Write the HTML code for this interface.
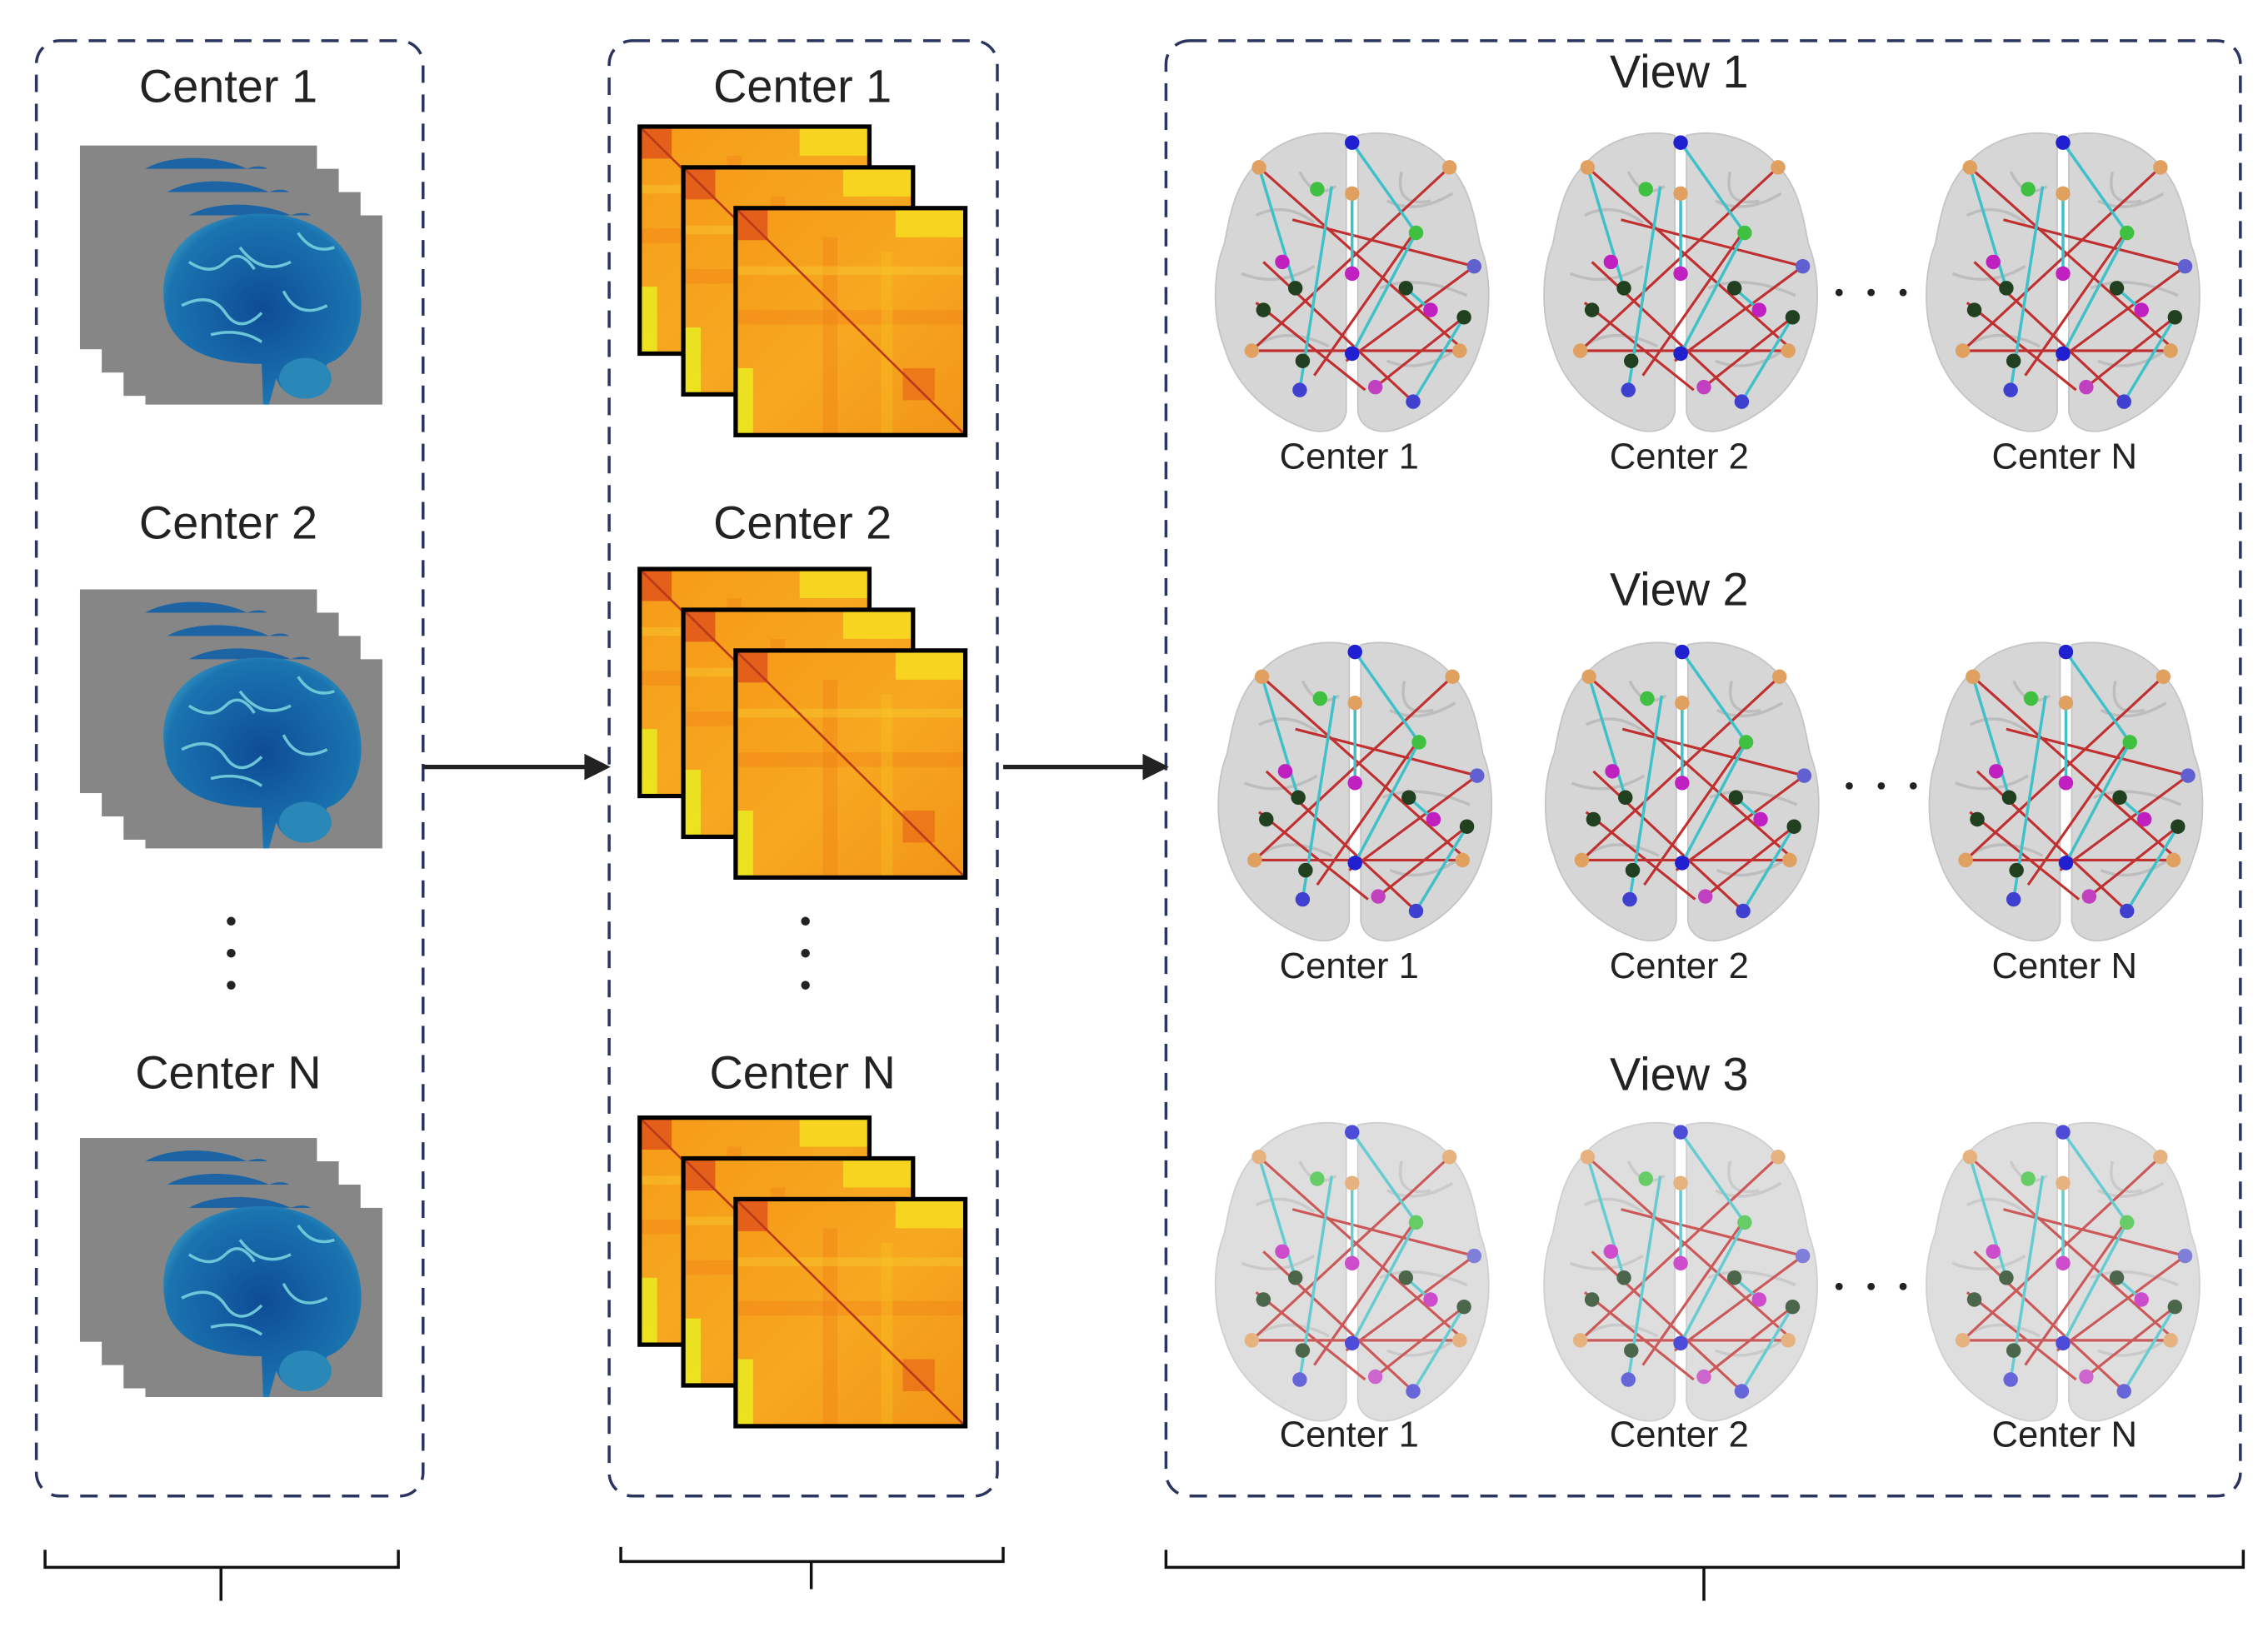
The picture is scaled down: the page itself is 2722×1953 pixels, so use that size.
<!DOCTYPE html>
<html><head><meta charset="utf-8"><style>
html,body{margin:0;padding:0;background:#fff;}
svg{display:block;}
text{font-family:"Liberation Sans",sans-serif;fill:#222;}
</style></head><body>
<svg width="2722" height="1953" viewBox="0 0 1560 1118" preserveAspectRatio="none" xmlns="http://www.w3.org/2000/svg">
<defs>
  <linearGradient id="hm" x1="0" y1="0" x2="1" y2="1">
    <stop offset="0" stop-color="#f59a18"/><stop offset="0.5" stop-color="#f7a820"/><stop offset="1" stop-color="#f29418"/>
  </linearGradient>
  <radialGradient id="bb" cx="0.5" cy="0.5" r="0.6">
    <stop offset="0" stop-color="#0e4c96"/><stop offset="0.8" stop-color="#1a74b0"/><stop offset="1" stop-color="#4aa7c8"/>
  </radialGradient>
  <g id="mat">
    <rect x="0" y="0" width="158" height="156" fill="url(#hm)"/>
    <rect x="0" y="0" width="22" height="22" fill="#e0501a" opacity="0.8"/>
    <rect x="110" y="0" width="48" height="20" fill="#f5e020" opacity="0.8"/>
    <rect x="0" y="110" width="12" height="46" fill="#e8f020" opacity="0.8"/>
    <rect x="60" y="20" width="10" height="136" fill="#f07a18" opacity="0.35"/>
    <rect x="0" y="70" width="158" height="10" fill="#f07a18" opacity="0.35"/>
    <rect x="100" y="30" width="8" height="126" fill="#f8c020" opacity="0.4"/>
    <rect x="0" y="40" width="158" height="6" fill="#f8d030" opacity="0.4"/>
    <rect x="115" y="110" width="22" height="22" fill="#e8601a" opacity="0.6"/>
    <line x1="0" y1="0" x2="158" y2="156" stroke="#b83a1a" stroke-width="1.5"/>
    <rect x="0" y="0" width="158" height="156" fill="none" stroke="#000" stroke-width="3"/>
  </g>
  <g id="stk">
    <use href="#mat" x="0" y="0"/>
    <use href="#mat" x="30" y="28"/>
    <use href="#mat" x="66" y="56"/>
  </g>
  <g id="slice">
    <rect x="0" y="0" width="163" height="140" fill="#868686"/>
    <path d="M35 26 C45 6 90 4 115 16 C130 10 140 22 120 30 L35 30 Z" fill="#1260a8" opacity="0.9"/>
  </g>
  <g id="brainstack">
    <use href="#slice" x="0" y="0"/>
    <use href="#slice" x="15" y="16"/>
    <use href="#slice" x="30" y="32"/>
    <rect x="45" y="48" width="163" height="130" fill="#868686"/>
    <path d="M60 120 C50 80 70 55 110 48 C150 42 185 60 192 95 C198 125 185 145 170 150 L165 168 C160 178 140 175 135 160 L130 178 L126 178 L125 150 C100 150 70 145 60 120 Z" fill="url(#bb)"/>
    <path d="M75 80 q15 10 25 0 q10 -10 20 5 M70 110 q20 -10 30 5 q10 15 25 0 M110 70 q15 20 35 10 M140 100 q10 20 30 10 M90 130 q20 -5 35 5 M150 60 q10 15 25 10" stroke="#6cc6d8" stroke-width="2" fill="none"/>
    <ellipse cx="155" cy="160" rx="18" ry="14" fill="#2a88b8"/>
  </g>
  <g id="brain">
    <path d="M92 5 C70 0 45 8 30 25 C15 40 12 60 8 80 C0 100 0 130 8 150 C15 175 35 195 60 205 C75 212 90 208 92 195 Z" fill="#d6d6d6" stroke="#c4c4c4"/>
    <path d="M100 5 C122 0 147 8 162 25 C177 40 180 60 184 80 C192 100 192 130 184 150 C177 175 157 195 132 205 C117 212 102 208 100 195 Z" fill="#d6d6d6" stroke="#c4c4c4"/>
    <path d="M30 60 q20 -10 40 5 M20 100 q25 10 50 -5 M30 150 q20 -15 50 0 M120 50 q20 10 45 -5 M115 110 q25 -10 60 5 M120 160 q25 10 50 -10 M60 30 q10 20 25 10 M130 30 q-5 25 20 20" stroke="#bdbdbd" stroke-width="2" fill="none"/>
    <g stroke="#c03030" stroke-width="1.8">
      <line x1="32" y1="27" x2="170" y2="150"/><line x1="163" y1="27" x2="27" y2="153"/>
      <line x1="27" y1="153" x2="170" y2="153"/><line x1="35" y1="92" x2="138" y2="188"/>
      <line x1="55" y1="63" x2="180" y2="95"/><line x1="30" y1="120" x2="105" y2="180"/>
      <line x1="92" y1="160" x2="180" y2="95"/><line x1="112" y1="178" x2="173" y2="130"/>
      <line x1="70" y1="170" x2="140" y2="70"/>
    </g>
    <g stroke="#40c0c8" stroke-width="2">
      <line x1="32" y1="27" x2="57" y2="110"/><line x1="96" y1="10" x2="140" y2="72"/>
      <line x1="96" y1="45" x2="96" y2="100"/><line x1="140" y1="72" x2="96" y2="155"/>
      <line x1="82" y1="40" x2="60" y2="180"/><line x1="138" y1="188" x2="173" y2="130"/>
      <line x1="133" y1="110" x2="150" y2="125"/>
    </g>
    <g>
      <circle cx="32" cy="27" r="5" fill="#e0a060"/><circle cx="163" cy="27" r="5" fill="#e0a060"/>
      <circle cx="96" cy="45" r="5" fill="#e0a060"/><circle cx="27" cy="153" r="5" fill="#e0a060"/>
      <circle cx="170" cy="153" r="5" fill="#e0a060"/><circle cx="96" cy="10" r="5" fill="#2020d0"/>
      <circle cx="96" cy="155" r="5" fill="#2020d0"/><circle cx="60" cy="180" r="5" fill="#4040d0"/>
      <circle cx="138" cy="188" r="5" fill="#4040d0"/><circle cx="180" cy="95" r="5" fill="#6060d0"/>
      <circle cx="72" cy="42" r="5" fill="#40c040"/><circle cx="140" cy="72" r="5" fill="#40c040"/>
      <circle cx="57" cy="110" r="5" fill="#204020"/><circle cx="133" cy="110" r="5" fill="#204020"/>
      <circle cx="35" cy="125" r="5" fill="#204020"/><circle cx="62" cy="160" r="5" fill="#204020"/>
      <circle cx="173" cy="130" r="5" fill="#204020"/><circle cx="96" cy="100" r="5" fill="#c020c0"/>
      <circle cx="48" cy="92" r="5" fill="#c020c0"/><circle cx="150" cy="125" r="5" fill="#c020c0"/>
      <circle cx="112" cy="178" r="5" fill="#c040c0"/>
    </g>
  </g>
</defs>

<!-- dashed boxes -->
<g fill="none" stroke="#2a3560" stroke-width="2" stroke-dasharray="12,8">
  <rect x="25" y="28" width="266" height="1000" rx="16"/>
  <rect x="419" y="28" width="267" height="1000" rx="16"/>
  <rect x="802" y="28" width="739" height="1000" rx="16"/>
</g>

<!-- left column -->
<g font-size="32" text-anchor="middle">
  <text x="157" y="70">Center 1</text>
  <text x="157" y="370">Center 2</text>
  <text x="157" y="748">Center N</text>
  <text x="552" y="70">Center 1</text>
  <text x="552" y="370">Center 2</text>
  <text x="552" y="748">Center N</text>
</g>
<use href="#brainstack" x="55" y="100"/>
<use href="#brainstack" x="55" y="405"/>
<use href="#brainstack" x="55" y="782"/>
<g fill="#222">
  <circle cx="159" cy="633" r="3"/><circle cx="159" cy="655" r="3"/><circle cx="159" cy="677" r="3"/>
  <circle cx="554" cy="633" r="3"/><circle cx="554" cy="655" r="3"/><circle cx="554" cy="677" r="3"/>
</g>

<!-- matrices -->
<use href="#stk" x="440" y="87"/>
<use href="#stk" x="440" y="391"/>
<use href="#stk" x="440" y="768"/>

<!-- arrows -->
<g stroke="#222" stroke-width="3">
  <line x1="291" y1="527" x2="405" y2="527"/>
  <line x1="690" y1="527" x2="788" y2="527"/>
</g>
<polygon points="420,527 402,518 402,536" fill="#222"/>
<polygon points="804,527 786,518 786,536" fill="#222"/>

<!-- right column -->
<g font-size="32" text-anchor="middle">
  <text x="1155" y="60">View 1</text>
  <text x="1155" y="416">View 2</text>
  <text x="1155" y="749">View 3</text>
</g>
<g font-size="25" text-anchor="middle">
  <text x="928" y="322">Center 1</text><text x="1155" y="322">Center 2</text><text x="1420" y="322">Center N</text>
  <text x="928" y="672">Center 1</text><text x="1155" y="672">Center 2</text><text x="1420" y="672">Center N</text>
  <text x="928" y="994">Center 1</text><text x="1155" y="994">Center 2</text><text x="1420" y="994">Center N</text>
</g>
<use href="#brain" x="834" y="88"/><use href="#brain" x="1060" y="88"/><use href="#brain" x="1323" y="88"/>
<use href="#brain" x="836" y="438"/><use href="#brain" x="1061" y="438"/><use href="#brain" x="1325" y="438"/>
<g opacity="0.8">
<use href="#brain" x="834" y="768"/><use href="#brain" x="1060" y="768"/><use href="#brain" x="1323" y="768"/>
</g>
<g fill="#222">
  <circle cx="1265" cy="201" r="2.5"/><circle cx="1287" cy="201" r="2.5"/><circle cx="1309" cy="201" r="2.5"/>
  <circle cx="1272" cy="540" r="2.5"/><circle cx="1294" cy="540" r="2.5"/><circle cx="1316" cy="540" r="2.5"/>
  <circle cx="1265" cy="884" r="2.5"/><circle cx="1287" cy="884" r="2.5"/><circle cx="1309" cy="884" r="2.5"/>
</g>

<!-- brackets -->
<g fill="none" stroke="#111" stroke-width="2">
  <path d="M31 1065 V1077 H274 V1065"/><line x1="152" y1="1077" x2="152" y2="1100"/>
  <path d="M427 1063 V1073 H690 V1063"/><line x1="558" y1="1073" x2="558" y2="1092"/>
  <path d="M802 1065 V1077 H1543 V1065"/><line x1="1172" y1="1077" x2="1172" y2="1100"/>
</g>
</svg>
</body></html>
